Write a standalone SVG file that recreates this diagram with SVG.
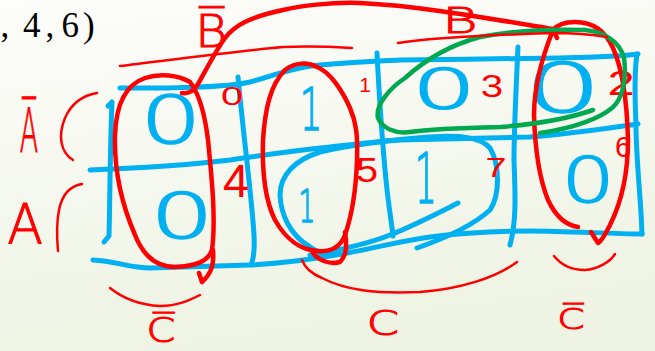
<svg xmlns="http://www.w3.org/2000/svg" width="655" height="351" viewBox="0 0 655 351">
<defs>
<linearGradient id="bg" x1="0" y1="0" x2="0.25" y2="1">
<stop offset="0" stop-color="#fdfdfb"/>
<stop offset="1" stop-color="#eef3e3"/>
</linearGradient>
<style>
.bl{fill:none;stroke:#00b0f0;stroke-width:5;stroke-linecap:round;stroke-linejoin:round}
.rd{fill:none;stroke:#ff0000;stroke-width:4.5;stroke-linecap:round;stroke-linejoin:round}
.rt{fill:none;stroke:#ff0000;stroke-width:2.5;stroke-linecap:round;stroke-linejoin:round}
.gr{fill:none;stroke:#00a850;stroke-width:4.5;stroke-linecap:round;stroke-linejoin:round}
.bv{font-family:"DejaVu Sans","Liberation Sans",sans-serif;font-weight:200;fill:#00b0f0;stroke:#00b0f0;stroke-width:1.6;text-anchor:middle}
.rn{font-family:"Liberation Sans",Arial,sans-serif;fill:#ff0000;text-anchor:middle}
.rl{font-family:"DejaVu Sans","Liberation Sans",sans-serif;font-weight:200;fill:#ff0000;stroke:#ff0000;stroke-width:1;text-anchor:middle}
.tx{font-family:"Liberation Serif","Times New Roman",serif;fill:#000;font-size:35px}
</style>
</defs>
<rect width="655" height="351" fill="url(#bg)"/>
<text class="tx" x="0.5 9 23 45.5 54 61.5 83" y="37">, 4, 6)</text>

<g id="grid">
<path class="bl" d="M120,88 L167,88 C200,87 225,87 245,83 C265,79 285,70 305,67 C330,63 360,62 400,60 C450,59 520,59 560,58 C600,57 625,56 638,54"/>
<path class="bl" d="M637,54 C633,80 636,110 636,130 C637,170 641,200 642,234"/>
<path class="bl" d="M90,170 C140,168 190,165 230,160 C270,154 300,150 330,147 C360,144 380,141 400,140 C450,139 500,138 530,137 C570,134 610,128 638,124"/>
<path class="bl" d="M93,260 C115,261 130,268 150,268 L250,265 C290,263 320,258 347,253 C380,247 400,241 430,237 C460,233 490,231 530,231 C570,231 610,234 642,234"/>
<path class="bl" d="M108,106 L112,102 C110,150 110,200 109,236 L104,242"/>
<path class="bl" d="M238,77 C242,120 247,160 251,200 C254,230 256,250 252,262"/>
<path class="bl" d="M377,53 C379,90 381,130 386,180 C389,210 392,225 393,236"/>
<path class="bl" d="M518,47 C516,90 514,130 514,160 C515,190 517,220 510,245"/>
<path class="bl" d="M417,248 C440,240 470,228 490,210 C500,195 500,165 490,148 C480,137 460,135 430,137 C390,140 350,145 320,152 C295,160 280,175 280,195 C281,215 290,235 310,247 C320,254 330,256 340,254"/>
<path class="bl" d="M458,203 C440,212 415,225 390,235 C370,243 340,250 310,255"/>
</g>

<g id="cell-m0"><text class="bv" font-size="66" transform="translate(171,143) scale(1.45,1)">0</text><text class="rn" font-size="25" transform="translate(232,105) scale(1.6,1)">0</text></g>
<g id="cell-m1"><text class="bv" font-size="59" transform="translate(311,130) scale(0.6,1)">1</text><text class="rn" font-size="21" transform="translate(365,92)">1</text></g>
<g id="cell-m3"><text class="bv" font-size="56" transform="translate(444,108) scale(1.8,1)">0</text><text class="rn" font-size="31" transform="translate(492,97) scale(1.3,1)">3</text></g>
<g id="cell-m2"><text class="bv" font-size="67" transform="translate(563,112) scale(1.8,1)">0</text><text class="rn" font-size="35" transform="translate(621,95) scale(1.4,1)">2</text></g>
<g id="cell-m4"><text class="bv" font-size="62" transform="translate(182,238) scale(1.6,1)">0</text><text class="rn" font-size="47" transform="translate(236,197)">4</text></g>
<g id="cell-m5"><text class="bv" font-size="44" transform="translate(307,222) scale(0.6,1)">1</text><text class="rn" font-size="35" transform="translate(367,182) scale(1.15,1)">5</text></g>
<g id="cell-m7"><text class="bv" font-size="69" transform="translate(426,203) scale(0.5,1)">1</text><text class="rn" font-size="27" transform="translate(496,177) scale(1.4,1)">7</text></g>
<g id="cell-m6"><text class="bv" font-size="62" transform="translate(588,202) scale(1.35,1)">0</text><text class="rn" font-size="29" transform="translate(623,157)">6</text></g>

<g id="groupings">
<path class="rd" d="M190,82 C200,95 205,115 208,140 C212,180 216,220 212,250 C208,262 195,266 175,267 C155,267 143,255 135,235 C122,205 114,170 115,135 C116,105 125,85 145,78 C160,73 178,75 190,82"/>
<path class="rd" d="M213,250 C214,262 213,272 202,282 L199,273"/>
<path class="rd" d="M182,93 C190,94 194,90 198,84 C206,70 215,52 225,38 C235,25 250,17 283,10 C300,6 330,2 360,3 C420,6 480,17 553,29 L557,38"/>
<path class="rd" d="M317,67 C330,72 342,90 350,108 C356,122 358,135 357,160 C356,190 352,215 345,235 C340,248 330,252 318,251 C300,250 285,238 275,220 C265,200 262,170 263,140 C265,110 270,85 285,70 C295,62 308,62 317,67"/>
<path class="rd" d="M345,232 C347,245 347,255 340,262 C330,265 318,260 313,253"/>
<path class="rd" d="M578,227 C565,225 555,215 548,200 C540,180 535,150 534,115 C534,85 543,55 553,30 C558,24 565,22 575,22 C592,22 605,30 613,48 C622,68 627,100 628,140 C628,175 620,205 610,225 C605,235 600,242 598,243 L591,232"/>
<path class="gr" d="M593,110 C570,118 540,124 500,127 C460,128 430,129 410,132 C395,134 382,128 378,118 C375,105 390,88 405,78 C425,60 450,45 480,37 C510,31 550,29 585,30 C605,32 620,42 624,58 C627,80 622,100 612,108 C600,118 575,128 540,133"/>
</g>

<g id="ranges">
<path class="rt" d="M120,66 C170,60 230,52 283,47 C310,46 335,47 352,48"/>
<path class="rt" d="M398,43 C430,38 490,35 553,33 C575,33 595,35 607,37"/>
<path class="rt" d="M97,93 C85,95 72,102 65,118 C58,135 60,152 73,160"/>
<path class="rt" d="M82,184 C70,186 62,195 59,210 C56,225 57,240 58,251"/>
<path class="rt" d="M110,288 C125,300 140,305 160,306 C178,306 190,300 200,295"/>
<path class="rt" d="M302,260 C305,268 312,274 322,278 C345,290 375,294 420,292 C460,289 495,278 517,262"/>
<path class="rt" d="M554,256 C562,266 572,270 585,270 C598,269 610,262 615,254"/>
</g>

<g id="labels">
<text class="rl" font-size="44" transform="translate(211,47) scale(1.1,1)">B&#x305;</text>
<text class="rl" font-size="36" transform="translate(460,33) scale(1.5,1)">B</text>
<text class="rl" font-size="60" transform="translate(29,152) scale(0.45,1)">A&#x305;</text>
<text class="rl" font-size="55" transform="translate(25,243) scale(0.95,1)">A</text>
<text class="rl" font-size="33" transform="translate(161,342) scale(1.25,1)">C&#x305;</text>
<text class="rl" font-size="33" transform="translate(383,335) scale(1.4,1)">C</text>
<text class="rl" font-size="29" transform="translate(571,329) scale(1.35,1)">C&#x305;</text>
</g>
</svg>
